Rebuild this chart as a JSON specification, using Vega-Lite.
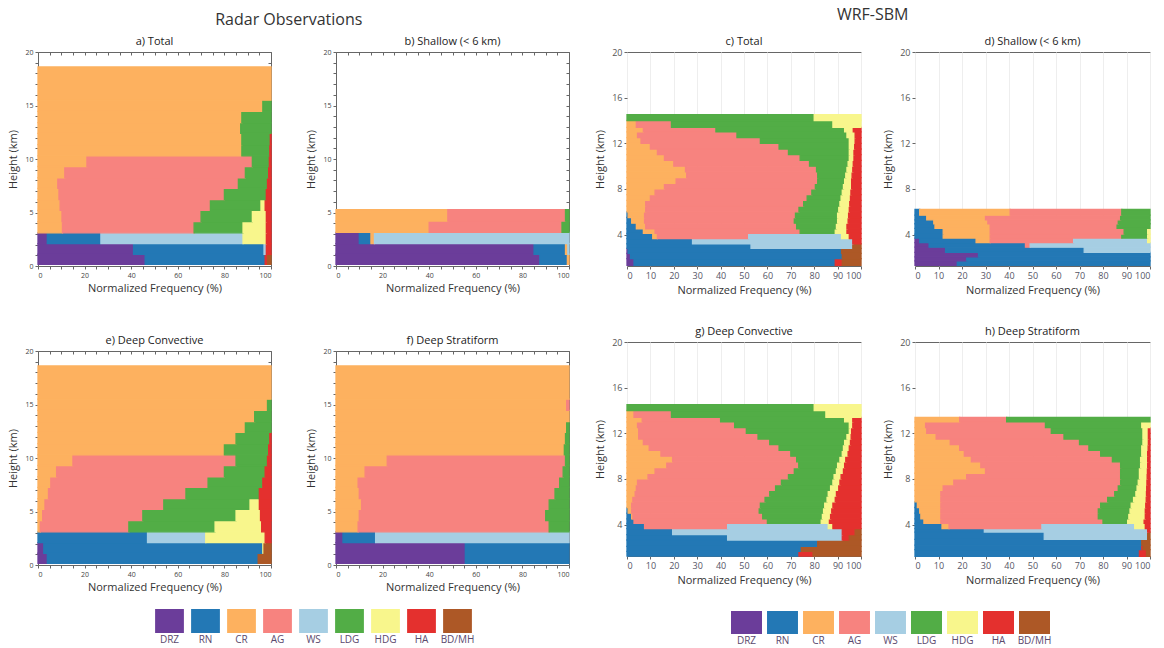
{
"$schema": "https://vega.github.io/schema/vega-lite/v6.json",
"background": "white",
"padding": {"left": 7, "top": 6, "right": 0, "bottom": 0},
"config": {
  "font": "Open Sans",
  "view": {"stroke": "#666", "strokeWidth": 1},
  "axis": {"domain": false, "grid": false, "tickColor": "#666", "tickSize": 3, "labelColor": "#444", "titleColor": "#333", "titleFontWeight": "normal", "titleFontSize": 11, "labelFontSize": 8, "labelOverlap": false},
  "title": {"fontSize": 11, "fontWeight": "normal", "color": "#222", "offset": 1}
},
"datasets": {
  "classes": [
    {"cls": "DRZ", "k": 1}, {"cls": "RN", "k": 2}, {"cls": "CR", "k": 3}, {"cls": "AG", "k": 4}, {"cls": "WS", "k": 5},
    {"cls": "LDG", "k": 6}, {"cls": "HDG", "k": 7}, {"cls": "HA", "k": 8}, {"cls": "BD/MH", "k": 9}
  ],
  "radar": [
    {"p":"a","h":0.15,"h2":1.1,"DRZ":46,"RN":51.5,"HA":1,"BD/MH":1.5},
    {"p":"a","h":1.1,"h2":2.1,"DRZ":41,"RN":56,"WS":1,"HA":2},
    {"p":"a","h":2.1,"h2":3.1,"DRZ":4,"RN":23,"WS":61,"HDG":10,"HA":2},
    {"p":"a","h":3.1,"h2":4.15,"CR":10.5,"AG":56.5,"LDG":21,"HDG":10,"HA":2},
    {"p":"a","h":4.15,"h2":5.2,"CR":10.3,"AG":59.7,"LDG":22,"HDG":6,"HA":2},
    {"p":"a","h":5.2,"h2":6.2,"CR":9.5,"AG":64.5,"LDG":21.7,"HDG":1.8,"HA":2.5},
    {"p":"a","h":6.2,"h2":7.25,"CR":9,"AG":71,"LDG":18,"HA":2},
    {"p":"a","h":7.25,"h2":8.25,"CR":8.5,"AG":77.5,"LDG":12.5,"HA":1.5},
    {"p":"a","h":8.25,"h2":9.3,"CR":11.5,"AG":77.5,"LDG":10,"HA":1},
    {"p":"a","h":9.3,"h2":10.3,"CR":21,"AG":71,"LDG":7.3,"HA":0.7},
    {"p":"a","h":10.3,"h2":11.35,"CR":87.5,"LDG":12,"HA":0.5},
    {"p":"a","h":11.35,"h2":12.4,"CR":87.5,"LDG":12.2,"HA":0.3},
    {"p":"a","h":12.4,"h2":13.4,"CR":87,"LDG":13},
    {"p":"a","h":13.4,"h2":14.45,"CR":87.5,"LDG":12.5},
    {"p":"a","h":14.45,"h2":15.5,"CR":96.5,"LDG":3.5},
    {"p":"a","h":15.5,"h2":18.6,"CR":100},
    {"p":"b","h":0.15,"h2":1.1,"DRZ":87.5,"RN":11.8,"CR":0.7},
    {"p":"b","h":1.1,"h2":2.1,"DRZ":85,"RN":13.5,"CR":1,"WS":0.5},
    {"p":"b","h":2.1,"h2":3.15,"DRZ":10,"RN":5,"CR":1.5,"WS":83.5},
    {"p":"b","h":3.15,"h2":4.2,"CR":40,"AG":57,"LDG":3},
    {"p":"b","h":4.2,"h2":5.26,"CR":48,"AG":50.5,"LDG":1.5},
    {"p":"e","h":0.15,"h2":1.1,"DRZ":4,"RN":90.5,"BD/MH":5.5},
    {"p":"e","h":1.1,"h2":2.1,"DRZ":2.5,"RN":94,"HDG":0.5,"BD/MH":3},
    {"p":"e","h":2.1,"h2":3.1,"RN":47,"WS":25,"HDG":25.5,"HA":2.5},
    {"p":"e","h":3.1,"h2":4.15,"CR":1,"AG":38,"LDG":37,"HDG":20,"HA":4},
    {"p":"e","h":4.15,"h2":5.2,"CR":2,"AG":43,"LDG":40,"HDG":10.5,"HA":4.5},
    {"p":"e","h":5.2,"h2":6.2,"CR":3,"AG":51,"LDG":37,"HDG":4,"HA":5},
    {"p":"e","h":6.2,"h2":7.25,"CR":4.5,"AG":59,"LDG":31.5,"HA":5},
    {"p":"e","h":7.25,"h2":8.25,"CR":5.5,"AG":67.5,"LDG":23.5,"HA":3.5},
    {"p":"e","h":8.25,"h2":9.3,"CR":8,"AG":72,"LDG":17.5,"HA":2.5},
    {"p":"e","h":9.3,"h2":10.3,"CR":15,"AG":70,"LDG":13.5,"HA":1.5},
    {"p":"e","h":10.3,"h2":11.35,"CR":80,"LDG":19,"HA":1},
    {"p":"e","h":11.35,"h2":12.4,"CR":85,"LDG":14.5,"HA":0.5},
    {"p":"e","h":12.4,"h2":13.4,"CR":89,"LDG":11},
    {"p":"e","h":13.4,"h2":14.45,"CR":93,"LDG":7},
    {"p":"e","h":14.45,"h2":15.5,"CR":98.5,"LDG":1.5},
    {"p":"e","h":15.5,"h2":18.6,"CR":100},
    {"p":"f","h":0.15,"h2":2.1,"DRZ":55.5,"RN":44.5},
    {"p":"f","h":2.1,"h2":3.1,"DRZ":3,"RN":14,"WS":83},
    {"p":"f","h":3.1,"h2":4.15,"CR":9.5,"AG":82,"LDG":8.5},
    {"p":"f","h":4.15,"h2":5.2,"CR":10,"AG":80,"LDG":10},
    {"p":"f","h":5.2,"h2":6.2,"CR":11,"AG":80.5,"LDG":8.5},
    {"p":"f","h":6.2,"h2":7.25,"CR":10,"AG":84,"LDG":6},
    {"p":"f","h":7.25,"h2":8.25,"CR":9.5,"AG":86.5,"LDG":4},
    {"p":"f","h":8.25,"h2":9.3,"CR":12.5,"AG":85,"LDG":2.5},
    {"p":"f","h":9.3,"h2":10.3,"CR":22,"AG":76.5,"LDG":1.5},
    {"p":"f","h":10.3,"h2":11.35,"CR":98,"LDG":2},
    {"p":"f","h":11.35,"h2":12.4,"CR":98.5,"LDG":1.5},
    {"p":"f","h":12.4,"h2":13.4,"CR":99,"LDG":1},
    {"p":"f","h":13.4,"h2":14.45,"CR":100},
    {"p":"f","h":14.45,"h2":15.5,"CR":99,"AG":1},
    {"p":"f","h":15.5,"h2":18.6,"CR":100}
  ],
  "wrf": [
    {"p":"c","h":1.3,"h2":1.9,"DRZ":3,"RN":86,"HA":3,"BD/MH":8},
    {"p":"c","h":1.9,"h2":2.35,"DRZ":1.5,"RN":90.5,"BD/MH":8},
    {"p":"c","h":2.35,"h2":2.8,"DRZ":0.5,"RN":91.2,"BD/MH":8.3},
    {"p":"c","h":2.8,"h2":3.2,"RN":53,"WS":43.5,"BD/MH":3.5},
    {"p":"c","h":3.2,"h2":3.65,"RN":28,"WS":68.5,"HA":3.5},
    {"p":"c","h":3.65,"h2":4.1,"RN":11,"CR":2,"AG":39,"WS":39.7,"HDG":3.3,"HA":5},
    {"p":"c","h":4.1,"h2":4.5,"RN":7,"CR":5,"AG":62,"LDG":15,"HDG":5,"HA":6},
    {"p":"c","h":4.5,"h2":5,"RN":4,"CR":4,"AG":64.5,"LDG":17,"HDG":4.5,"HA":6},
    {"p":"c","h":5,"h2":5.5,"RN":2,"CR":5.5,"AG":64,"LDG":18.5,"HDG":4.5,"HA":5.5},
    {"p":"c","h":5.5,"h2":6,"RN":0.5,"CR":7,"AG":64.5,"LDG":18,"HDG":4.7,"HA":5.3},
    {"p":"c","h":6,"h2":6.5,"CR":8,"AG":65.5,"LDG":17,"HDG":4.5,"HA":5},
    {"p":"c","h":6.5,"h2":7,"CR":8,"AG":67.5,"LDG":15.5,"HDG":4.2,"HA":4.8},
    {"p":"c","h":7,"h2":7.5,"CR":10,"AG":67,"LDG":14.5,"HDG":4,"HA":4.5},
    {"p":"c","h":7.5,"h2":8,"CR":12,"AG":67,"LDG":13,"HDG":3.7,"HA":4.3},
    {"p":"c","h":8,"h2":8.5,"CR":16,"AG":64.5,"LDG":12,"HDG":3.5,"HA":4},
    {"p":"c","h":8.5,"h2":9,"CR":21,"AG":60.5,"LDG":11.5,"HDG":3,"HA":4},
    {"p":"c","h":9,"h2":9.5,"CR":25.5,"AG":56,"LDG":12,"HDG":2.7,"HA":3.8},
    {"p":"c","h":9.5,"h2":10,"CR":25,"AG":56,"LDG":13,"HDG":2.5,"HA":3.5},
    {"p":"c","h":10,"h2":10.5,"CR":20,"AG":58,"LDG":16.5,"HDG":2.2,"HA":3.3},
    {"p":"c","h":10.5,"h2":11,"CR":16,"AG":58,"LDG":21,"HDG":2,"HA":3},
    {"p":"c","h":11,"h2":11.5,"CR":13,"AG":56,"LDG":26,"HDG":2,"HA":3},
    {"p":"c","h":11.5,"h2":12,"CR":10,"AG":55,"LDG":30,"HDG":2.3,"HA":2.7},
    {"p":"c","h":12,"h2":12.5,"CR":6,"AG":51,"LDG":38,"HDG":2.5,"HA":2.5},
    {"p":"c","h":12.5,"h2":13,"CR":4.5,"AG":42.5,"LDG":47,"HDG":3.5,"HA":2.5},
    {"p":"c","h":13,"h2":13.4,"CR":7,"AG":31,"LDG":55,"HDG":3.7,"HA":3.3},
    {"p":"c","h":13.4,"h2":14,"CR":4,"AG":15,"LDG":69,"HDG":12},
    {"p":"c","h":14,"h2":14.5,"LDG":80,"HDG":20},
    {"p":"d","h":1.3,"h2":1.7,"DRZ":18,"RN":82},
    {"p":"d","h":1.7,"h2":2.05,"DRZ":22,"RN":78},
    {"p":"d","h":2.05,"h2":2.45,"DRZ":27,"RN":73},
    {"p":"d","h":2.45,"h2":2.9,"DRZ":13,"RN":59,"WS":28},
    {"p":"d","h":2.9,"h2":3.3,"DRZ":6,"RN":41,"AG":2,"WS":51},
    {"p":"d","h":3.3,"h2":3.7,"DRZ":2,"RN":24,"CR":6,"AG":35.5,"WS":31.5,"HDG":1},
    {"p":"d","h":3.7,"h2":4.05,"RN":12,"CR":20,"AG":56,"LDG":11,"HDG":1},
    {"p":"d","h":4.05,"h2":4.55,"RN":12,"CR":20,"AG":57,"LDG":10,"HDG":1},
    {"p":"d","h":4.55,"h2":4.95,"RN":8.5,"CR":23.5,"AG":54,"LDG":14},
    {"p":"d","h":4.95,"h2":5.3,"RN":8,"CR":23,"AG":55.5,"LDG":13.5},
    {"p":"d","h":5.3,"h2":5.7,"RN":5,"CR":25,"AG":57.5,"LDG":12.5},
    {"p":"d","h":5.7,"h2":6.2,"RN":2,"CR":38.5,"AG":47.5,"LDG":12},
    {"p":"g","h":1.25,"h2":1.65,"RN":73.5,"HA":6,"BD/MH":20.5},
    {"p":"g","h":1.65,"h2":2.1,"RN":74.5,"BD/MH":25.5},
    {"p":"g","h":2.1,"h2":2.65,"RN":81.5,"BD/MH":18.5},
    {"p":"g","h":2.65,"h2":3.12,"RN":43,"WS":49,"HA":3,"BD/MH":5},
    {"p":"g","h":3.12,"h2":3.65,"RN":19.5,"WS":72.5,"HA":5.5,"BD/MH":2.5},
    {"p":"g","h":3.65,"h2":4.1,"RN":7.5,"AG":35.5,"WS":43,"HDG":2,"HA":12},
    {"p":"g","h":4.1,"h2":4.5,"RN":3,"AG":57,"LDG":23,"HDG":3.5,"HA":13.5},
    {"p":"g","h":4.5,"h2":5,"RN":2,"CR":0.5,"AG":55.5,"LDG":25.5,"HDG":3.5,"HA":13},
    {"p":"g","h":5,"h2":5.5,"RN":0.5,"CR":1.5,"AG":54.5,"LDG":27.5,"HDG":3.5,"HA":12.5},
    {"p":"g","h":5.5,"h2":6,"CR":2,"AG":55,"LDG":27.5,"HDG":3.5,"HA":12},
    {"p":"g","h":6,"h2":6.5,"CR":2.5,"AG":56.5,"LDG":26.5,"HDG":3.5,"HA":11},
    {"p":"g","h":6.5,"h2":7,"CR":3.5,"AG":57.5,"LDG":25,"HDG":3.5,"HA":10.5},
    {"p":"g","h":7,"h2":7.5,"CR":4,"AG":59.5,"LDG":23.5,"HDG":3.5,"HA":9.5},
    {"p":"g","h":7.5,"h2":8,"CR":4.5,"AG":61.5,"LDG":22,"HDG":3,"HA":9},
    {"p":"g","h":8,"h2":8.5,"CR":9,"AG":60,"LDG":19.5,"HDG":3,"HA":8.5},
    {"p":"g","h":8.5,"h2":9,"CR":12,"AG":59.5,"LDG":18,"HDG":3,"HA":7.5},
    {"p":"g","h":9,"h2":9.5,"CR":17,"AG":56.4,"LDG":16.6,"HDG":3,"HA":7},
    {"p":"g","h":9.5,"h2":10,"CR":19.5,"AG":53,"LDG":18.5,"HDG":2.5,"HA":6.5},
    {"p":"g","h":10,"h2":10.5,"CR":14.5,"AG":55.5,"LDG":22,"HDG":2.5,"HA":5.5},
    {"p":"g","h":10.5,"h2":11,"CR":9.5,"AG":55.5,"LDG":27.5,"HDG":2.5,"HA":5},
    {"p":"g","h":11,"h2":11.5,"CR":7,"AG":54,"LDG":32,"HDG":2.5,"HA":4.5},
    {"p":"g","h":11.5,"h2":12,"CR":5,"AG":51,"LDG":38,"HDG":1.8,"HA":4.2},
    {"p":"g","h":12,"h2":12.5,"CR":5,"AG":46,"LDG":44,"HDG":1,"HA":4},
    {"p":"g","h":12.5,"h2":13,"CR":4.5,"AG":41.5,"LDG":49,"HDG":1.5,"HA":3.5},
    {"p":"g","h":13,"h2":13.4,"CR":6.5,"AG":33.5,"LDG":53,"HDG":3.5,"HA":3.5},
    {"p":"g","h":13.4,"h2":14,"CR":3,"AG":16,"LDG":66,"HDG":15},
    {"p":"g","h":14,"h2":14.5,"LDG":80,"HDG":20},
    {"p":"h","h":1.23,"h2":1.8,"RN":95.5,"HA":3,"BD/MH":1.5},
    {"p":"h","h":1.8,"h2":2.2,"RN":96.5,"HA":0.5,"BD/MH":3},
    {"p":"h","h":2.2,"h2":2.7,"RN":96.5,"BD/MH":3.5},
    {"p":"h","h":2.7,"h2":3.35,"RN":55,"WS":44,"BD/MH":1},
    {"p":"h","h":3.35,"h2":3.65,"RN":29.5,"WS":69.5,"HA":1},
    {"p":"h","h":3.65,"h2":4.1,"RN":11.5,"CR":3,"AG":39.5,"WS":39.5,"HDG":4.5,"HA":2},
    {"p":"h","h":4.1,"h2":4.5,"RN":3.8,"CR":7.2,"AG":69,"LDG":10.5,"HDG":7,"HA":2.5},
    {"p":"h","h":4.5,"h2":5,"RN":2.5,"CR":8.5,"AG":67,"LDG":13,"HDG":7,"HA":2},
    {"p":"h","h":5,"h2":5.5,"RN":2,"CR":9,"AG":67,"LDG":13.5,"HDG":6.5,"HA":2},
    {"p":"h","h":5.5,"h2":6,"RN":1,"CR":10,"AG":68,"LDG":13,"HDG":6.2,"HA":1.8},
    {"p":"h","h":6,"h2":6.5,"CR":11,"AG":71,"LDG":11,"HDG":5.4,"HA":1.6},
    {"p":"h","h":6.5,"h2":7,"CR":11,"AG":74,"LDG":9,"HDG":4.5,"HA":1.5},
    {"p":"h","h":7,"h2":7.5,"CR":12,"AG":74.5,"LDG":8,"HDG":4.1,"HA":1.4},
    {"p":"h","h":7.5,"h2":8,"CR":16.5,"AG":71,"LDG":7.5,"HDG":3.7,"HA":1.3},
    {"p":"h","h":8,"h2":8.5,"CR":22,"AG":65.5,"LDG":8,"HDG":3.3,"HA":1.2},
    {"p":"h","h":8.5,"h2":9,"CR":30,"AG":57.5,"LDG":8,"HDG":3.4,"HA":1.1},
    {"p":"h","h":9,"h2":9.5,"CR":28,"AG":59.5,"LDG":8.5,"HDG":3,"HA":1},
    {"p":"h","h":9.5,"h2":10,"CR":24,"AG":60,"LDG":12,"HDG":3,"HA":1},
    {"p":"h","h":10,"h2":10.5,"CR":21,"AG":58,"LDG":17.5,"HDG":2.5,"HA":1},
    {"p":"h","h":10.5,"h2":11,"CR":19,"AG":55,"LDG":22.5,"HDG":2.7,"HA":0.8},
    {"p":"h","h":11,"h2":11.5,"CR":15,"AG":55,"LDG":27,"HDG":2.3,"HA":0.7},
    {"p":"h","h":11.5,"h2":12,"CR":9,"AG":54.4,"LDG":33.6,"HDG":2.3,"HA":0.7},
    {"p":"h","h":12,"h2":12.5,"CR":5,"AG":53,"LDG":39,"HDG":2.3,"HA":0.7},
    {"p":"h","h":12.5,"h2":13,"CR":4.5,"AG":51,"LDG":41,"HDG":3.5},
    {"p":"h","h":13,"h2":13.4,"CR":19,"AG":20,"LDG":61}
  ]
},
"resolve": {"scale": {"x": "independent", "y": "independent", "color": "independent", "stroke": "independent"}},
"spacing": 23,
"hconcat": [
  {
    "title": {"text": "Radar Observations", "fontSize": 16, "color": "#333", "anchor": "middle", "offset": 8},
    "resolve": {"scale": {"x": "independent", "y": "independent", "color": "independent", "stroke": "independent"}},
    "spacing": 16,
    "vconcat": [
      {
        "spacing": 40,
        "resolve": {"scale": {"x": "independent", "y": "independent", "color": "independent", "stroke": "independent"}},
        "vconcat": [
          {
            "spacing": 32,
            "resolve": {"scale": {"x": "independent", "y": "independent", "color": "independent", "stroke": "independent"}},
            "hconcat": [
              {
                "width": 233, "height": 214, "title": "a) Total",
                "data": {"name": "radar"},
                "transform": [
                  {"filter": "datum.p == 'a'"},
                  {"fold": ["DRZ","RN","CR","AG","WS","LDG","HDG","HA","BD/MH"], "as": ["cls","v"]},
                  {"filter": "datum.v > 0"},
                  {"lookup": "cls", "from": {"data": {"name": "classes"}, "key": "cls", "fields": ["k"]}},
                  {"stack": "v", "groupby": ["h"], "sort": [{"field": "k", "order": "ascending"}], "as": ["x0","x1"]}
                ],
                "encoding": {
                  "x": {"field": "x0", "type": "quantitative", "scale": {"domain": [0,100], "nice": false}, "axis": {"values": [0,5,10,15,20,25,30,35,40,45,50,55,60,65,70,75,80,85,90,95,100], "labelExpr": "datum.value % 20 == 0 ? datum.label : ''", "labelFontSize": 7, "title": "Normalized Frequency (%)"}},
                  "x2": {"field": "x1"},
                  "y": {"field": "h", "type": "quantitative", "scale": {"domain": [0,20], "nice": false}, "axis": {"values": [0,1,2,3,4,5,6,7,8,9,10,11,12,13,14,15,16,17,18,19,20], "labelExpr": "datum.value % 5 == 0 ? datum.label : ''", "labelFontSize": 7, "title": "Height (km)", "titlePadding": 6}},
                  "y2": {"field": "h2"},
                  "color": {"field": "cls", "type": "nominal", "legend": null, "scale": {"domain": ["DRZ","RN","CR","AG","WS","LDG","HDG","HA","BD/MH"], "range": ["#6b3d9a","#2378b5","#fdb15f","#f7837f","#a6cee3","#52ad46","#f8f68c","#e4302e","#ad5826"]}},
                  "stroke": {"field": "cls", "type": "nominal", "legend": null, "scale": {"domain": ["DRZ","RN","CR","AG","WS","LDG","HDG","HA","BD/MH"], "range": ["#6b3d9a","#2378b5","#fdb15f","#f7837f","#a6cee3","#52ad46","#f8f68c","#e4302e","#ad5826"]}}
                },
                "layer": [
                  {"mark": {"type": "rect", "strokeWidth": 1.3}},
                  {"mark": {"type": "rect", "opacity": 0}, "encoding": {
                    "x": {"field": "x0", "type": "quantitative", "axis": {"orient": "top", "values": [0,5,10,15,20,25,30,35,40,45,50,55,60,65,70,75,80,85,90,95,100], "labels": false, "title": null, "tickSize": -3}},
                    "y": {"field": "h", "type": "quantitative", "axis": {"orient": "right", "values": [0,1,2,3,4,5,6,7,8,9,10,11,12,13,14,15,16,17,18,19,20], "labels": false, "title": null, "tickSize": -3}}
                  }}
                ],
                "resolve": {"axis": {"x": "independent", "y": "independent"}}
              },
              {
                "width": 233, "height": 214, "title": "b) Shallow (< 6 km)",
                "data": {"name": "radar"},
                "transform": [
                  {"filter": "datum.p == 'b'"},
                  {"fold": ["DRZ","RN","CR","AG","WS","LDG","HDG","HA","BD/MH"], "as": ["cls","v"]},
                  {"filter": "datum.v > 0"},
                  {"lookup": "cls", "from": {"data": {"name": "classes"}, "key": "cls", "fields": ["k"]}},
                  {"stack": "v", "groupby": ["h"], "sort": [{"field": "k", "order": "ascending"}], "as": ["x0","x1"]}
                ],
                "encoding": {
                  "x": {"field": "x0", "type": "quantitative", "scale": {"domain": [0,100], "nice": false}, "axis": {"values": [0,5,10,15,20,25,30,35,40,45,50,55,60,65,70,75,80,85,90,95,100], "labelExpr": "datum.value % 20 == 0 ? datum.label : ''", "labelFontSize": 7, "title": "Normalized Frequency (%)"}},
                  "x2": {"field": "x1"},
                  "y": {"field": "h", "type": "quantitative", "scale": {"domain": [0,20], "nice": false}, "axis": {"values": [0,1,2,3,4,5,6,7,8,9,10,11,12,13,14,15,16,17,18,19,20], "labelExpr": "datum.value % 5 == 0 ? datum.label : ''", "labelFontSize": 7, "title": "Height (km)", "titlePadding": 6}},
                  "y2": {"field": "h2"},
                  "color": {"field": "cls", "type": "nominal", "legend": null, "scale": {"domain": ["DRZ","RN","CR","AG","WS","LDG","HDG","HA","BD/MH"], "range": ["#6b3d9a","#2378b5","#fdb15f","#f7837f","#a6cee3","#52ad46","#f8f68c","#e4302e","#ad5826"]}},
                  "stroke": {"field": "cls", "type": "nominal", "legend": null, "scale": {"domain": ["DRZ","RN","CR","AG","WS","LDG","HDG","HA","BD/MH"], "range": ["#6b3d9a","#2378b5","#fdb15f","#f7837f","#a6cee3","#52ad46","#f8f68c","#e4302e","#ad5826"]}}
                },
                "layer": [
                  {"mark": {"type": "rect", "strokeWidth": 1.3}},
                  {"mark": {"type": "rect", "opacity": 0}, "encoding": {
                    "x": {"field": "x0", "type": "quantitative", "axis": {"orient": "top", "values": [0,5,10,15,20,25,30,35,40,45,50,55,60,65,70,75,80,85,90,95,100], "labels": false, "title": null, "tickSize": -3}},
                    "y": {"field": "h", "type": "quantitative", "axis": {"orient": "right", "values": [0,1,2,3,4,5,6,7,8,9,10,11,12,13,14,15,16,17,18,19,20], "labels": false, "title": null, "tickSize": -3}}
                  }}
                ],
                "resolve": {"axis": {"x": "independent", "y": "independent"}}
              }
            ]
          },
          {
            "spacing": 32,
            "resolve": {"scale": {"x": "independent", "y": "independent", "color": "independent", "stroke": "independent"}},
            "hconcat": [
              {
                "width": 233, "height": 214, "title": "e) Deep Convective",
                "data": {"name": "radar"},
                "transform": [
                  {"filter": "datum.p == 'e'"},
                  {"fold": ["DRZ","RN","CR","AG","WS","LDG","HDG","HA","BD/MH"], "as": ["cls","v"]},
                  {"filter": "datum.v > 0"},
                  {"lookup": "cls", "from": {"data": {"name": "classes"}, "key": "cls", "fields": ["k"]}},
                  {"stack": "v", "groupby": ["h"], "sort": [{"field": "k", "order": "ascending"}], "as": ["x0","x1"]}
                ],
                "encoding": {
                  "x": {"field": "x0", "type": "quantitative", "scale": {"domain": [0,100], "nice": false}, "axis": {"values": [0,5,10,15,20,25,30,35,40,45,50,55,60,65,70,75,80,85,90,95,100], "labelExpr": "datum.value % 20 == 0 ? datum.label : ''", "labelFontSize": 7, "title": "Normalized Frequency (%)"}},
                  "x2": {"field": "x1"},
                  "y": {"field": "h", "type": "quantitative", "scale": {"domain": [0,20], "nice": false}, "axis": {"values": [0,1,2,3,4,5,6,7,8,9,10,11,12,13,14,15,16,17,18,19,20], "labelExpr": "datum.value % 5 == 0 ? datum.label : ''", "labelFontSize": 7, "title": "Height (km)", "titlePadding": 6}},
                  "y2": {"field": "h2"},
                  "color": {"field": "cls", "type": "nominal", "legend": null, "scale": {"domain": ["DRZ","RN","CR","AG","WS","LDG","HDG","HA","BD/MH"], "range": ["#6b3d9a","#2378b5","#fdb15f","#f7837f","#a6cee3","#52ad46","#f8f68c","#e4302e","#ad5826"]}},
                  "stroke": {"field": "cls", "type": "nominal", "legend": null, "scale": {"domain": ["DRZ","RN","CR","AG","WS","LDG","HDG","HA","BD/MH"], "range": ["#6b3d9a","#2378b5","#fdb15f","#f7837f","#a6cee3","#52ad46","#f8f68c","#e4302e","#ad5826"]}}
                },
                "layer": [
                  {"mark": {"type": "rect", "strokeWidth": 1.3}},
                  {"mark": {"type": "rect", "opacity": 0}, "encoding": {
                    "x": {"field": "x0", "type": "quantitative", "axis": {"orient": "top", "values": [0,5,10,15,20,25,30,35,40,45,50,55,60,65,70,75,80,85,90,95,100], "labels": false, "title": null, "tickSize": -3}},
                    "y": {"field": "h", "type": "quantitative", "axis": {"orient": "right", "values": [0,1,2,3,4,5,6,7,8,9,10,11,12,13,14,15,16,17,18,19,20], "labels": false, "title": null, "tickSize": -3}}
                  }}
                ],
                "resolve": {"axis": {"x": "independent", "y": "independent"}}
              },
              {
                "width": 233, "height": 214, "title": "f) Deep Stratiform",
                "data": {"name": "radar"},
                "transform": [
                  {"filter": "datum.p == 'f'"},
                  {"fold": ["DRZ","RN","CR","AG","WS","LDG","HDG","HA","BD/MH"], "as": ["cls","v"]},
                  {"filter": "datum.v > 0"},
                  {"lookup": "cls", "from": {"data": {"name": "classes"}, "key": "cls", "fields": ["k"]}},
                  {"stack": "v", "groupby": ["h"], "sort": [{"field": "k", "order": "ascending"}], "as": ["x0","x1"]}
                ],
                "encoding": {
                  "x": {"field": "x0", "type": "quantitative", "scale": {"domain": [0,100], "nice": false}, "axis": {"values": [0,5,10,15,20,25,30,35,40,45,50,55,60,65,70,75,80,85,90,95,100], "labelExpr": "datum.value % 20 == 0 ? datum.label : ''", "labelFontSize": 7, "title": "Normalized Frequency (%)"}},
                  "x2": {"field": "x1"},
                  "y": {"field": "h", "type": "quantitative", "scale": {"domain": [0,20], "nice": false}, "axis": {"values": [0,1,2,3,4,5,6,7,8,9,10,11,12,13,14,15,16,17,18,19,20], "labelExpr": "datum.value % 5 == 0 ? datum.label : ''", "labelFontSize": 7, "title": "Height (km)", "titlePadding": 6}},
                  "y2": {"field": "h2"},
                  "color": {"field": "cls", "type": "nominal", "legend": null, "scale": {"domain": ["DRZ","RN","CR","AG","WS","LDG","HDG","HA","BD/MH"], "range": ["#6b3d9a","#2378b5","#fdb15f","#f7837f","#a6cee3","#52ad46","#f8f68c","#e4302e","#ad5826"]}},
                  "stroke": {"field": "cls", "type": "nominal", "legend": null, "scale": {"domain": ["DRZ","RN","CR","AG","WS","LDG","HDG","HA","BD/MH"], "range": ["#6b3d9a","#2378b5","#fdb15f","#f7837f","#a6cee3","#52ad46","#f8f68c","#e4302e","#ad5826"]}}
                },
                "layer": [
                  {"mark": {"type": "rect", "strokeWidth": 1.3}},
                  {"mark": {"type": "rect", "opacity": 0}, "encoding": {
                    "x": {"field": "x0", "type": "quantitative", "axis": {"orient": "top", "values": [0,5,10,15,20,25,30,35,40,45,50,55,60,65,70,75,80,85,90,95,100], "labels": false, "title": null, "tickSize": -3}},
                    "y": {"field": "h", "type": "quantitative", "axis": {"orient": "right", "values": [0,1,2,3,4,5,6,7,8,9,10,11,12,13,14,15,16,17,18,19,20], "labels": false, "title": null, "tickSize": -3}}
                  }}
                ],
                "resolve": {"axis": {"x": "independent", "y": "independent"}}
              }
            ]
          }
        ]
      },
      {
        "width": 480, "height": 24,
        "view": {"stroke": null},
        "data": {"name": "classes"},
        "mark": {"type": "bar"},
        "encoding": {
          "x": {"field": "cls", "type": "nominal", "sort": {"field": "k"}, "scale": {"range": [113.5, 437.5], "paddingInner": 0.2, "paddingOuter": 0.1}, "axis": {"title": null, "domain": false, "ticks": false, "labelAngle": 0, "labelFontSize": 10, "labelColor": "#5a4a6e", "labelPadding": 1}},
          "y": {"aggregate": "count", "type": "quantitative", "scale": {"domain": [0,1], "nice": false}, "axis": null},
          "color": {"field": "cls", "type": "nominal", "legend": null, "scale": {"domain": ["DRZ","RN","CR","AG","WS","LDG","HDG","HA","BD/MH"], "range": ["#6b3d9a","#2378b5","#fdb15f","#f7837f","#a6cee3","#52ad46","#f8f68c","#e4302e","#ad5826"]}}
        }
      }
    ]
  },
  {
    "title": {"text": "WRF-SBM", "fontSize": 16, "color": "#333", "anchor": "middle", "offset": 13},
    "resolve": {"scale": {"x": "independent", "y": "independent", "color": "independent", "stroke": "independent"}},
    "spacing": 25,
    "vconcat": [
      {
        "spacing": 29,
        "resolve": {"scale": {"x": "independent", "y": "independent", "color": "independent", "stroke": "independent"}},
        "vconcat": [
          {
            "spacing": 19,
            "resolve": {"scale": {"x": "independent", "y": "independent", "color": "independent", "stroke": "independent"}},
            "hconcat": [
              {
                "width": 234, "height": 214, "title": "c) Total",
                "data": {"name": "wrf"},
                "transform": [
                  {"filter": "datum.p == 'c'"},
                  {"fold": ["DRZ","RN","CR","AG","WS","LDG","HDG","HA","BD/MH"], "as": ["cls","v"]},
                  {"filter": "datum.v > 0"},
                  {"lookup": "cls", "from": {"data": {"name": "classes"}, "key": "cls", "fields": ["k"]}},
                  {"stack": "v", "groupby": ["h"], "sort": [{"field": "k", "order": "ascending"}], "as": ["x0","x1"]}
                ],
                "mark": {"type": "rect", "strokeWidth": 1.3},
                "encoding": {
                  "x": {"field": "x0", "type": "quantitative", "scale": {"domain": [0,100], "nice": false}, "axis": {"values": [0,10,20,30,40,50,60,70,80,90,100], "labelFontSize": 9, "labelColor": "#556", "grid": true, "gridColor": "#eeeeee", "title": "Normalized Frequency (%)"}},
                  "x2": {"field": "x1"},
                  "y": {"field": "h", "type": "quantitative", "scale": {"domain": [1.25,20], "nice": false, "zero": false}, "axis": {"values": [4,8,12,16,20], "labelFontSize": 9, "labelColor": "#555", "title": "Height (km)", "titlePadding": 6}},
                  "y2": {"field": "h2"},
                  "color": {"field": "cls", "type": "nominal", "legend": null, "scale": {"domain": ["DRZ","RN","CR","AG","WS","LDG","HDG","HA","BD/MH"], "range": ["#6b3d9a","#2378b5","#fdb15f","#f7837f","#a6cee3","#52ad46","#f8f68c","#e4302e","#ad5826"]}},
                  "stroke": {"field": "cls", "type": "nominal", "legend": null, "scale": {"domain": ["DRZ","RN","CR","AG","WS","LDG","HDG","HA","BD/MH"], "range": ["#6b3d9a","#2378b5","#fdb15f","#f7837f","#a6cee3","#52ad46","#f8f68c","#e4302e","#ad5826"]}}
                }
              },
              {
                "width": 235, "height": 214, "title": "d) Shallow (< 6 km)",
                "data": {"name": "wrf"},
                "transform": [
                  {"filter": "datum.p == 'd'"},
                  {"fold": ["DRZ","RN","CR","AG","WS","LDG","HDG","HA","BD/MH"], "as": ["cls","v"]},
                  {"filter": "datum.v > 0"},
                  {"lookup": "cls", "from": {"data": {"name": "classes"}, "key": "cls", "fields": ["k"]}},
                  {"stack": "v", "groupby": ["h"], "sort": [{"field": "k", "order": "ascending"}], "as": ["x0","x1"]}
                ],
                "mark": {"type": "rect", "strokeWidth": 1.3},
                "encoding": {
                  "x": {"field": "x0", "type": "quantitative", "scale": {"domain": [0,100], "nice": false}, "axis": {"values": [0,10,20,30,40,50,60,70,80,90,100], "labelFontSize": 9, "labelColor": "#556", "grid": true, "gridColor": "#eeeeee", "title": "Normalized Frequency (%)"}},
                  "x2": {"field": "x1"},
                  "y": {"field": "h", "type": "quantitative", "scale": {"domain": [1.25,20], "nice": false, "zero": false}, "axis": {"values": [4,8,12,16,20], "labelFontSize": 9, "labelColor": "#555", "title": "Height (km)", "titlePadding": 6}},
                  "y2": {"field": "h2"},
                  "color": {"field": "cls", "type": "nominal", "legend": null, "scale": {"domain": ["DRZ","RN","CR","AG","WS","LDG","HDG","HA","BD/MH"], "range": ["#6b3d9a","#2378b5","#fdb15f","#f7837f","#a6cee3","#52ad46","#f8f68c","#e4302e","#ad5826"]}},
                  "stroke": {"field": "cls", "type": "nominal", "legend": null, "scale": {"domain": ["DRZ","RN","CR","AG","WS","LDG","HDG","HA","BD/MH"], "range": ["#6b3d9a","#2378b5","#fdb15f","#f7837f","#a6cee3","#52ad46","#f8f68c","#e4302e","#ad5826"]}}
                }
              }
            ]
          },
          {
            "spacing": 19,
            "resolve": {"scale": {"x": "independent", "y": "independent", "color": "independent", "stroke": "independent"}},
            "hconcat": [
              {
                "width": 234, "height": 214, "title": "g) Deep Convective",
                "data": {"name": "wrf"},
                "transform": [
                  {"filter": "datum.p == 'g'"},
                  {"fold": ["DRZ","RN","CR","AG","WS","LDG","HDG","HA","BD/MH"], "as": ["cls","v"]},
                  {"filter": "datum.v > 0"},
                  {"lookup": "cls", "from": {"data": {"name": "classes"}, "key": "cls", "fields": ["k"]}},
                  {"stack": "v", "groupby": ["h"], "sort": [{"field": "k", "order": "ascending"}], "as": ["x0","x1"]}
                ],
                "mark": {"type": "rect", "strokeWidth": 1.3},
                "encoding": {
                  "x": {"field": "x0", "type": "quantitative", "scale": {"domain": [0,100], "nice": false}, "axis": {"values": [0,10,20,30,40,50,60,70,80,90,100], "labelFontSize": 9, "labelColor": "#556", "grid": true, "gridColor": "#eeeeee", "title": "Normalized Frequency (%)"}},
                  "x2": {"field": "x1"},
                  "y": {"field": "h", "type": "quantitative", "scale": {"domain": [1.25,20], "nice": false, "zero": false}, "axis": {"values": [4,8,12,16,20], "labelFontSize": 9, "labelColor": "#555", "title": "Height (km)", "titlePadding": 6}},
                  "y2": {"field": "h2"},
                  "color": {"field": "cls", "type": "nominal", "legend": null, "scale": {"domain": ["DRZ","RN","CR","AG","WS","LDG","HDG","HA","BD/MH"], "range": ["#6b3d9a","#2378b5","#fdb15f","#f7837f","#a6cee3","#52ad46","#f8f68c","#e4302e","#ad5826"]}},
                  "stroke": {"field": "cls", "type": "nominal", "legend": null, "scale": {"domain": ["DRZ","RN","CR","AG","WS","LDG","HDG","HA","BD/MH"], "range": ["#6b3d9a","#2378b5","#fdb15f","#f7837f","#a6cee3","#52ad46","#f8f68c","#e4302e","#ad5826"]}}
                }
              },
              {
                "width": 235, "height": 214, "title": "h) Deep Stratiform",
                "data": {"name": "wrf"},
                "transform": [
                  {"filter": "datum.p == 'h'"},
                  {"fold": ["DRZ","RN","CR","AG","WS","LDG","HDG","HA","BD/MH"], "as": ["cls","v"]},
                  {"filter": "datum.v > 0"},
                  {"lookup": "cls", "from": {"data": {"name": "classes"}, "key": "cls", "fields": ["k"]}},
                  {"stack": "v", "groupby": ["h"], "sort": [{"field": "k", "order": "ascending"}], "as": ["x0","x1"]}
                ],
                "mark": {"type": "rect", "strokeWidth": 1.3},
                "encoding": {
                  "x": {"field": "x0", "type": "quantitative", "scale": {"domain": [0,100], "nice": false}, "axis": {"values": [0,10,20,30,40,50,60,70,80,90,100], "labelFontSize": 9, "labelColor": "#556", "grid": true, "gridColor": "#eeeeee", "title": "Normalized Frequency (%)"}},
                  "x2": {"field": "x1"},
                  "y": {"field": "h", "type": "quantitative", "scale": {"domain": [1.25,20], "nice": false, "zero": false}, "axis": {"values": [4,8,12,16,20], "labelFontSize": 9, "labelColor": "#555", "title": "Height (km)", "titlePadding": 6}},
                  "y2": {"field": "h2"},
                  "color": {"field": "cls", "type": "nominal", "legend": null, "scale": {"domain": ["DRZ","RN","CR","AG","WS","LDG","HDG","HA","BD/MH"], "range": ["#6b3d9a","#2378b5","#fdb15f","#f7837f","#a6cee3","#52ad46","#f8f68c","#e4302e","#ad5826"]}},
                  "stroke": {"field": "cls", "type": "nominal", "legend": null, "scale": {"domain": ["DRZ","RN","CR","AG","WS","LDG","HDG","HA","BD/MH"], "range": ["#6b3d9a","#2378b5","#fdb15f","#f7837f","#a6cee3","#52ad46","#f8f68c","#e4302e","#ad5826"]}}
                }
              }
            ]
          }
        ]
      },
      {
        "width": 480, "height": 23,
        "view": {"stroke": null},
        "data": {"name": "classes"},
        "mark": {"type": "bar"},
        "encoding": {
          "x": {"field": "cls", "type": "nominal", "sort": {"field": "k"}, "scale": {"range": [101.5, 425.5], "paddingInner": 0.14, "paddingOuter": 0.07}, "axis": {"title": null, "domain": false, "ticks": false, "labelAngle": 0, "labelFontSize": 10, "labelColor": "#5a4a6e", "labelPadding": 1}},
          "y": {"aggregate": "count", "type": "quantitative", "scale": {"domain": [0,1], "nice": false}, "axis": null},
          "color": {"field": "cls", "type": "nominal", "legend": null, "scale": {"domain": ["DRZ","RN","CR","AG","WS","LDG","HDG","HA","BD/MH"], "range": ["#6b3d9a","#2378b5","#fdb15f","#f7837f","#a6cee3","#52ad46","#f8f68c","#e4302e","#ad5826"]}}
        }
      }
    ]
  }
]
}
